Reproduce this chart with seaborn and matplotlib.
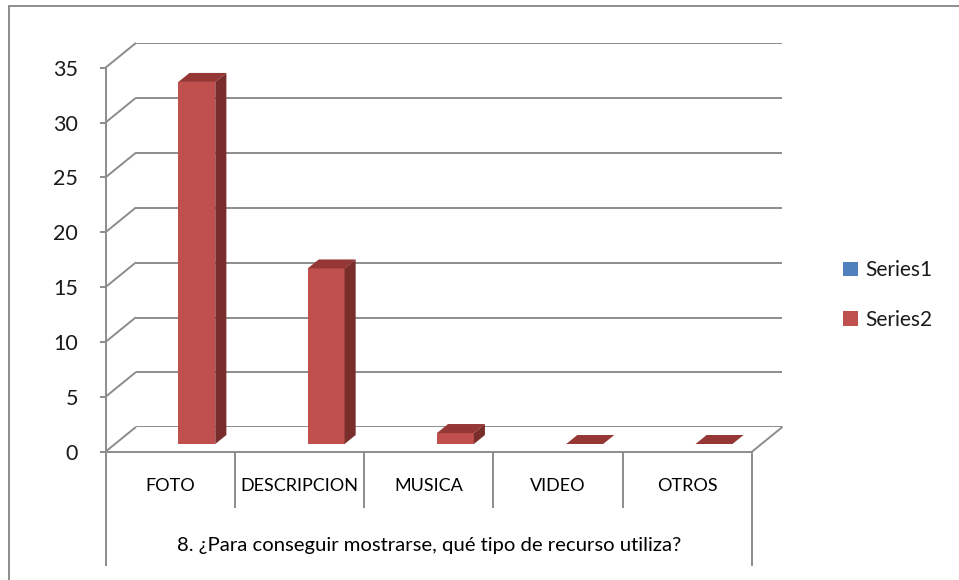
import numpy as np
import pandas as pd
import seaborn as sns
import matplotlib.pyplot as plt
from matplotlib.patches import Polygon, Patch, ConnectionPatch
from matplotlib.lines import Line2D
from matplotlib.transforms import IdentityTransform, blended_transform_factory

# ---- data -------------------------------------------------------------
categories = ["FOTO", "DESCRIPCION", "MUSICA", "VIDEO", "OTROS"]
series_names = ["Series1", "Series2"]
series1 = [np.nan, np.nan, np.nan, np.nan, np.nan]
series2 = [33, 16, 1, 0, 0]
y_ticks = [0, 5, 10, 15, 20, 25, 30, 35]
question = "8. ¿Para conseguir mostrarse, qué tipo de recurso utiliza?"

df = pd.DataFrame({
    "Recurso": categories * 2,
    "Serie": [series_names[0]] * len(categories) + [series_names[1]] * len(categories),
    "Valor": series1 + series2,
})

# ---- style ------------------------------------------------------------
sns.set_style("white")
plt.rcParams["font.family"] = ["Lato", "DejaVu Sans"]

BLUE = "#4F81BD"
RED = "#C0504D"
RED_TOP = "#953735"
RED_SIDE = "#7A2E2C"
GRID = "#8C8C8C"
TEXT = "#1A1A1A"
LW = 1.4

W, H = 959, 580
PLANE_W, PLANE_H = 646.5, 384.0


def rect(left, base, width=PLANE_W, height=PLANE_H):
    """Axes rectangle from a left edge and a baseline given in pixels from the top."""
    return [left / W, (H - base) / H, width / W, height / H]


fig = plt.figure(figsize=(W / 100, H / 100), dpi=100)

# three parallel planes of the 3-D box: back wall, bar plane, front edge
bax = fig.add_axes(rect(135.5, 427.3), zorder=0)
ax = fig.add_axes(rect(113.7, 444.0), zorder=1)
fax = fig.add_axes(rect(105.5, 451.7), zorder=2)

# ---- bars ---------------------------------------------------------------
sns.barplot(
    data=df, x="Recurso", y="Valor", hue="Serie",
    order=categories, hue_order=series_names,
    palette={series_names[0]: BLUE, series_names[1]: RED},
    width=0.571, errorbar=None, saturation=1, linewidth=0,
    legend=False, ax=ax,
)

for a in (bax, ax, fax):
    a.set_xlim(-0.5, len(categories) - 0.5)
    a.set_ylim(0, y_ticks[-1])
    a.patch.set_visible(False)
bax.axis("off")
ax.axis("off")

# back wall gridlines
for v in y_ticks:
    bax.axhline(v, color=GRID, lw=LW)

# side wall diagonals and the right edge of the floor
for v in y_ticks:
    fig.add_artist(ConnectionPatch(xyA=(-0.5, v), coordsA=fax.transData,
                                   xyB=(-0.5, v), coordsB=bax.transData,
                                   color=GRID, lw=LW, zorder=0.5))
fig.add_artist(ConnectionPatch(xyA=(len(categories) - 0.5, 0), coordsA=fax.transData,
                               xyB=(len(categories) - 0.5, 0), coordsB=bax.transData,
                               color=GRID, lw=LW, zorder=0.5))

# top and side faces that give each bar its depth
depth = np.array([11.1, 9.0]) * fig.dpi / 100
to_disp = ax.transData.transform
for p in ax.patches:
    h = p.get_height()
    if not np.isfinite(h):
        continue
    x0, w = p.get_x(), p.get_width()
    tl = to_disp((x0, h))
    tr = to_disp((x0 + w, h))
    br = to_disp((x0 + w, 0))
    top = Polygon([tl, tr, tr + depth, tl + depth], closed=True,
                  facecolor=RED_TOP, edgecolor="none",
                  transform=IdentityTransform(), zorder=1.5)
    side = Polygon([br, tr, tr + depth, br + depth], closed=True,
                   facecolor=RED_SIDE, edgecolor="none",
                   transform=IdentityTransform(), zorder=1.5)
    fig.add_artist(top)
    fig.add_artist(side)

# ---- front axes: value axis, floor edge, category table -----------------
for s in ("top", "right"):
    fax.spines[s].set_visible(False)
for s in ("left", "bottom"):
    fax.spines[s].set_color(GRID)
    fax.spines[s].set_linewidth(LW)

fax.set_yticks(y_ticks)
fax.tick_params(axis="y", left=True, length=4.3, width=LW, color=GRID, pad=15.5,
                labelsize=15.5, labelcolor=TEXT)
fax.set_xticks(range(len(categories)), categories)
fax.tick_params(axis="x", which="major", bottom=True, length=0, pad=19.0,
                labelsize=13, labelcolor="black")
fax.set_xticks([i + 0.5 for i in range(len(categories) - 1)], minor=True)
fax.tick_params(axis="x", which="minor", bottom=True, length=40.3, width=LW,
                color=GRID, direction="out")

edge = blended_transform_factory(fax.transData, fax.transAxes)
for xe in (-0.5, len(categories) - 0.5):
    fax.plot([xe, xe], [0, -0.297], transform=edge, color=GRID, lw=LW,
             clip_on=False, solid_capstyle="butt")

fax.text(0.5, -0.243, question, transform=fax.transAxes, ha="center",
         va="center", fontsize=14.6, color="black")

# ---- legend -------------------------------------------------------------
handles = [Patch(facecolor=BLUE, edgecolor="none"),
           Patch(facecolor=RED, edgecolor="none")]
fig.legend(handles, series_names, loc="center left",
           bbox_to_anchor=(843 / W, 1 - 295 / H), frameon=False, fontsize=15,
           handlelength=0.7, handleheight=0.7, handletextpad=0.35,
           labelspacing=1.4, borderpad=0, borderaxespad=0, labelcolor=TEXT)

# chart frame (top and left edges)
fig.add_artist(Line2D([9 / W, 9 / W], [0, 1 - 6 / H], transform=fig.transFigure,
                      color=GRID, lw=LW))
fig.add_artist(Line2D([9 / W, 1], [1 - 6 / H, 1 - 6 / H], transform=fig.transFigure,
                      color=GRID, lw=LW))

fig.savefig("out.png", dpi=100)
